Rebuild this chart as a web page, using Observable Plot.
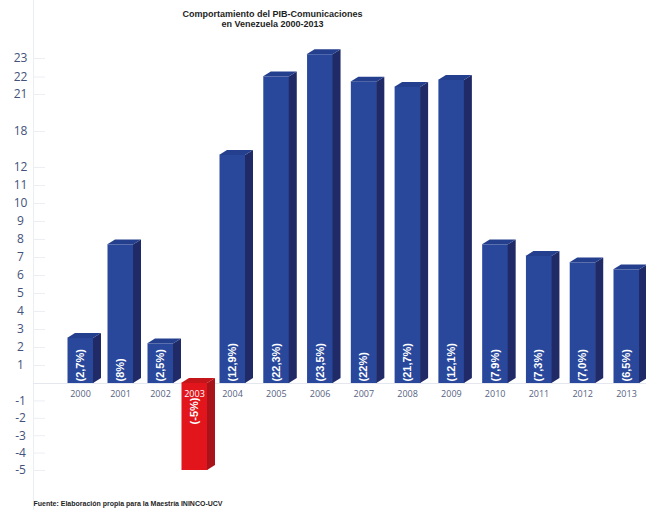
<!DOCTYPE html>
<html>
<head>
<meta charset="utf-8">
<script src="https://cdn.jsdelivr.net/npm/d3@7"></script>
<script src="https://cdn.jsdelivr.net/npm/@observablehq/plot@0.6"></script>
<style>
  html, body { margin: 0; padding: 0; background: #fff; }
  #chart svg { display: block; }
</style>
</head>
<body>
<div id="chart"></div>
<script>
// ---- data ----
const years = [2000, 2001, 2002, 2003, 2004, 2005, 2006, 2007, 2008, 2009, 2010, 2011, 2012, 2013];
// bar heights as read against the chart's own (non-uniform) axis
const heights = [2.5, 7.7, 2.2, -5, 14.0, 22.0, 23.2, 21.7, 21.4, 21.8, 7.7, 7.05, 6.7, 6.3];
// growth labels printed inside the bars
const growthLabels = ["(2,7%)", "(8%)", "(2,5%)", "(-5%)", "(12,9%)", "(22,3%)", "(23,5%)", "(22%)", "(21,7%)", "(12,1%)", "(7,9%)", "(7,3%)", "(7,0%)", "(6,5%)"];
// tick labels on the left axis
const yTicks = [23, 22, 21, 18, 12, 11, 10, 9, 8, 7, 6, 5, 4, 3, 2, 1, -1, -2, -3, -4, -5];
const title = "Comportamiento del PIB-Comunicaciones\nen Venezuela 2000-2013";
const caption = "Fuente: Elaboración propia para la Maestría ININCO-UCV";

const rows = years.map((year, i) => ({year, value: heights[i], label: growthLabels[i]}));

// ---- styles ----
const BLUE_FRONT = "#29489c", BLUE_SIDE = "#1f2a66", BLUE_TOP = "#243f8e";
const RED_FRONT = "#e2141c", RED_SIDE = "#a81419", RED_TOP = "#c4151b";
const BAR_W = 26, DEPTH_X = 8, DEPTH_Y = 5;

// 3D side and top faces, positioned through Plot's scales
function faces(index, scales) {
  const sx = scales.x, sy = scales.y;
  const g = d3.create("svg:g");
  const y0 = sy(0);
  rows.forEach(d => {
    const cx = sx(d.year);
    const xl = cx - BAR_W / 2, xr = cx + BAR_W / 2;
    const yv = sy(d.value);
    const yTop = Math.min(y0, yv), yBot = Math.max(y0, yv);
    const neg = d.value < 0;
    g.append("path")
      .attr("d", `M${xr},${yBot}L${xr + DEPTH_X},${yBot - DEPTH_Y}L${xr + DEPTH_X},${yTop - DEPTH_Y}L${xr},${yTop}Z`)
      .attr("fill", neg ? RED_SIDE : BLUE_SIDE);
    g.append("path")
      .attr("d", `M${xl},${yTop}L${xr},${yTop}L${xr + DEPTH_X},${yTop - DEPTH_Y}L${xl + DEPTH_X},${yTop - DEPTH_Y}Z`)
      .attr("fill", neg ? RED_TOP : BLUE_TOP);
  });
  return g.node();
}

const chart = Plot.plot({
  width: 646,
  height: 510,
  marginLeft: 33,
  marginRight: 0,
  marginTop: 0,
  marginBottom: 0,
  style: {background: "#fff", color: "#eceef3"},
  x: {
    type: "linear",
    domain: [2000, 2002, 2003, 2004, 2013],
    range: [80, 160, 194, 232, 626],
    axis: null
  },
  y: {
    type: "linear",
    domain: [-5, 0, 12, 18, 21, 22, 23],
    range: [470, 383, 167, 131, 94, 76.5, 58],
    axis: "left",
    ticks: yTicks,
    tickSize: -12,
    tickFormat: () => "",
    line: true,
    label: null
  },
  marks: [
    Plot.ruleY([0], {stroke: "#e4e7ee"}),
    Plot.ruleX(rows, {
      x: "year", y1: 0, y2: "value",
      stroke: d => d.value < 0 ? RED_FRONT : BLUE_FRONT,
      strokeWidth: BAR_W
    }),
    faces,
    // y tick labels
    Plot.text(yTicks, {
      y: d => d, text: d => String(d),
      frameAnchor: "left", dx: -13, textAnchor: "middle",
      fontFamily: "Open Sans", fontSize: 12, fill: "#44527a"
    }),
    // year labels
    Plot.text(rows, {
      x: "year", y: 0, text: d => String(d.year), dy: 11,
      fontFamily: "Open Sans", fontSize: 9,
      fill: d => d.value < 0 ? "#ffffff" : "#56627f"
    }),
    // growth labels (positive bars)
    Plot.text(rows.filter(d => d.value >= 0), {
      x: "year", y: 0, text: "label", rotate: -90, dy: -2,
      textAnchor: "start",
      fontFamily: "Liberation Sans", fontWeight: "bold", fontSize: 11, fill: "#ffffff"
    }),
    // growth labels (negative bars)
    Plot.text(rows.filter(d => d.value < 0), {
      x: "year", y: 0, text: "label", rotate: -90, dy: 14,
      textAnchor: "end",
      fontFamily: "Liberation Sans", fontWeight: "bold", fontSize: 11, fill: "#ffffff"
    }),
    // title
    Plot.text([title], {
      frameAnchor: "top-left", dx: 239, dy: 10,
      textAnchor: "middle", lineAnchor: "top", lineHeight: 1.05,
      fontFamily: "Liberation Sans", fontWeight: "bold", fontSize: 9, fill: "#1e1e1e"
    }),
    // caption
    Plot.text([caption], {
      frameAnchor: "bottom-left", dx: 0, dy: -5,
      textAnchor: "start",
      fontFamily: "Liberation Sans", fontWeight: "bold", fontSize: 7, fill: "#1e1e1e"
    })
  ]
});

document.getElementById("chart").appendChild(chart);
</script>
</body>
</html>
